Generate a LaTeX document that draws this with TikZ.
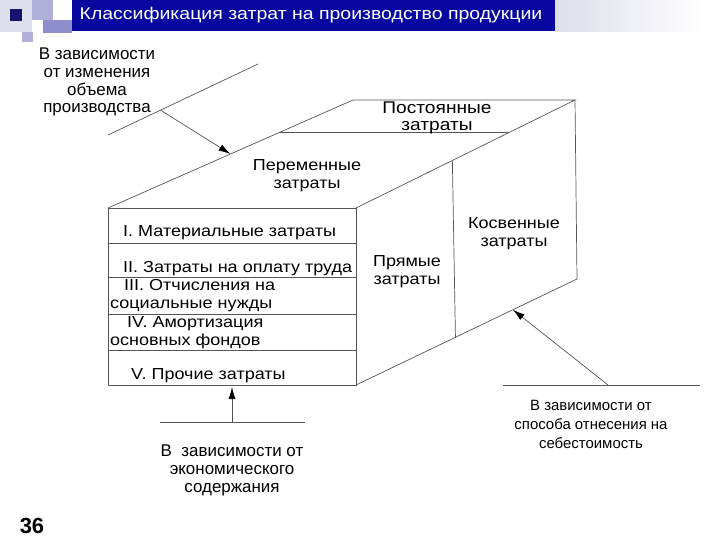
\documentclass[tikz,border=0pt]{standalone}
\usepackage{fontspec}
\setmainfont{Liberation Sans}
\newfontfamily\widefont[FakeStretch=1.13]{Liberation Sans}
\newfontfamily\titlefont[FakeStretch=1.15]{Liberation Sans}
\usetikzlibrary{arrows.meta,calc}
\definecolor{BarClr}{RGB}{8,8,160}
\definecolor{DarkSq}{RGB}{20,20,110}
\definecolor{MidSq}{RGB}{175,175,215}
\definecolor{LightSq}{RGB}{222,222,236}
\definecolor{EdgeClr}{RGB}{85,85,85}
\newcommand\lblfont{\widefont\fontsize{16}{18}\selectfont}

\begin{document}
\begin{tikzpicture}[x=1bp,y=-1bp,
  edge/.style={draw=EdgeClr,line width=0.7bp},
  pointer/.style={edge,-{Latex[length=12bp,width=7bp,color=black]}},
  txt/.style={font=\lblfont,inner sep=0pt,align=center},
  note/.style={txt,font=\fontsize{17}{18}\selectfont},
  row/.style={txt,anchor=west,align=left}]
\useasboundingbox (0,0) rectangle (720,540);

% header
\fill[LightSq] (0,0) rectangle (32,32);
\fill[MidSq] (32,0) rectangle (53,20);
\fill[MidSq!80!BarClr] (43,20) rectangle (72,33);
\fill[MidSq] (22,32) rectangle (33,42);
\fill[DarkSq] (10,9) rectangle (22,21);
\shade[left color=LightSq,right color=white] (555,0) rectangle (705,32);
\fill[BarClr] (72,0) rectangle (555,31);
\node[font=\titlefont\fontsize{17}{19}\selectfont,text=white,inner sep=0pt] (title) at (311,15)
  {Классификация затрат на производство продукции};

% corners of the box
\coordinate (A) at (108,208);
\coordinate (B) at (356,208);
\coordinate (C) at (356,385);
\coordinate (D) at (108,385);
\coordinate (E) at (353,100);
\coordinate (F) at (575,100);
\coordinate (G) at (577,279);

\draw[edge] (A) -- (B) -- (C) -- (D) -- cycle;
\draw[edge] (A) -- (E) -- (F) -- (B);
\draw[edge] (F) -- (G) -- (C);

% dividers
\draw[edge] ($(A)!0.7!(E)$) -- ($(B)!0.7!(F)$);
\draw[edge] ($(B)!0.44!(F)$) -- ($(C)!0.45!(G)$);
\foreach \y in {243,277,314,350}
  \draw[edge] (108,\y) -- (356,\y);

% face labels
\node[txt,font=\widefont\fontsize{17}{17}\selectfont] (post) at (437,118) {Постоянные\\затраты};
\node[txt] (var) at (307,176) {Переменные\\затраты};
\node[txt] (direct) at (407,272) {Прямые\\затраты};
\node[txt] (indirect) at (514,234) {Косвенные\\затраты};

\node[row] (r1) at (123,233) {I. Материальные затраты};
\node[row] (r2) at (123,269) {II. Затраты на оплату труда};
\node[row] (r3) at (110,296) {\hspace*{14bp}III. Отчисления на\\социальные нужды};
\node[row] (r4) at (110,333) {\hspace*{17bp}IV. Амортизация\\основных фондов};
\node[row] (r5) at (131,376) {V. Прочие затраты};

% volume
\coordinate (U1) at (108,135);
\coordinate (U2) at (258,64);
\coordinate (volTail) at ($(U1)!0.35!(U2)$);
\coordinate (volHead) at ($(A)!0.5!(E)$);
\draw[edge] (U1) -- (U2);
\draw[pointer] (volTail) -- (volHead);
\node[note] (byVolume) at (97,82) {В зависимости\\от изменения\\объема\\производства};

% economic content
\coordinate (L1) at (160,422);
\coordinate (L2) at (305,422);
\coordinate (ecoTail) at (232,422);
\coordinate (ecoHead) at (232,387);
\draw[edge] (L1) -- (L2);
\draw[pointer] (ecoTail) -- (ecoHead);
\node[note] (byContent) at (232,470) {В\ \ зависимости от\\экономического\\содержания};

% cost allocation
\coordinate (R1) at (503,385);
\coordinate (R2) at (700,385);
\coordinate (allocTail) at (608,385);
\coordinate (allocHead) at ($(C)!0.71!(G)$);
\draw[edge] (R1) -- (R2);
\draw[pointer] (allocTail) -- (allocHead);
\node[txt,font=\fontsize{15}{19}\selectfont] (byAlloc) at (591,424) {В зависимости от\\способа отнесения на\\себестоимость};

\node[font=\fontsize{22}{24}\selectfont\bfseries,inner sep=0pt] (pageno) at (32,526) {36};
\end{tikzpicture}
\end{document}
